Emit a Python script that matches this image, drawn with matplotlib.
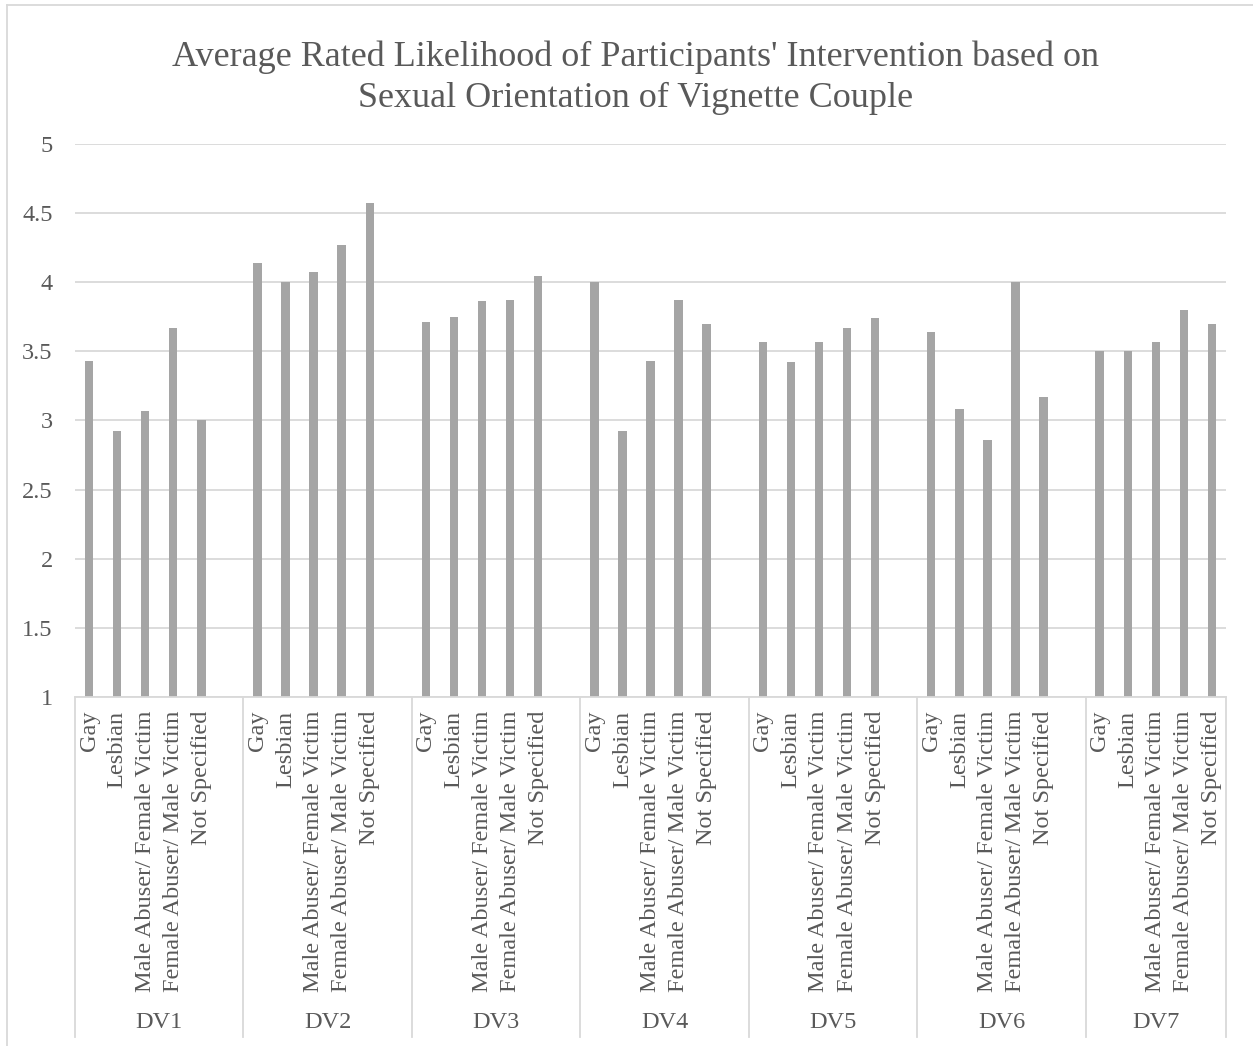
"""
Average rated likelihood of intervention by vignette couple orientation
"""
import matplotlib.pyplot as plt
from matplotlib.lines import Line2D
import matplotlib.transforms as mtransforms

plt.rcParams['font.family'] = ['Liberation Serif', 'DejaVu Serif']

# Data
groups = ['DV1', 'DV2', 'DV3', 'DV4', 'DV5', 'DV6', 'DV7']
categories = ['Gay', 'Lesbian', 'Male Abuser/ Female Victim',
              'Female Abuser/ Male Victim', 'Not Specified']
dv1 = [3.43, 2.92, 3.07, 3.67, 3.00]
dv2 = [4.14, 4.00, 4.07, 4.27, 4.57]
dv3 = [3.71, 3.75, 3.86, 3.87, 4.04]
dv4 = [4.00, 2.92, 3.43, 3.87, 3.70]
dv5 = [3.57, 3.42, 3.57, 3.67, 3.74]
dv6 = [3.64, 3.08, 2.86, 4.00, 3.17]
dv7 = [3.50, 3.50, 3.57, 3.80, 3.70]
values = [dv1, dv2, dv3, dv4, dv5, dv6, dv7]

text_color = '#595959'
bar_color = '#A5A5A5'
line_color = '#D9D9D9'

W, H = 1253, 1046
fig = plt.figure(figsize=(W / 100, H / 100), dpi=100)

# plot area in pixels: x 75..1226, y 143.7..697
left, right, top, bottom = 75, 1226, 143.7, 697
ax = fig.add_axes([left / W, 1 - bottom / H, (right - left) / W, (bottom - top) / H])

# each group = 5 categories + one blank slot
slot = 6
xs, heights, labels = [], [], []
for g, vals in enumerate(values):
    for c, v in enumerate(vals):
        xs.append(g * slot + c)
        heights.append(v - 1)
        labels.append(categories[c])

ax.bar(xs, heights, bottom=1, width=0.3, color=bar_color, zorder=2)

ax.set_xlim(-0.5, len(groups) * slot - 1.5)
ax.set_ylim(1, 5)
ax.set_yticks([1, 1.5, 2, 2.5, 3, 3.5, 4, 4.5, 5])
ax.set_yticklabels(['1', '1.5', '2', '2.5', '3', '3.5', '4', '4.5', '5'])
ax.yaxis.grid(True, color=line_color, linewidth=1.3, zorder=0)
ax.set_axisbelow(True)

for s in ['top', 'right', 'left']:
    ax.spines[s].set_visible(False)
ax.spines['bottom'].set_color(line_color)
ax.spines['bottom'].set_linewidth(1.3)

ax.tick_params(axis='y', length=0, pad=16, labelsize=17.5, labelcolor=text_color)
ax.set_xticks(xs)
ax.set_xticklabels(labels, rotation=90, va='top', ha='center')
ax.tick_params(axis='x', length=0, pad=10, labelsize=17.5, labelcolor=text_color)

# group separators and group labels below the axis
ax_h = bottom - top
y_low = (H - 1037 - (H - bottom)) / ax_h
y_lbl = (H - 1022 - (H - bottom)) / ax_h
trans = mtransforms.blended_transform_factory(ax.transData, ax.transAxes)
seps = [-0.5 + g * slot for g in range(len(groups))] + [len(groups) * slot - 1.5]
for xsep in seps:
    ax.plot([xsep, xsep], [0, y_low], transform=trans, color=line_color,
            linewidth=1.3, clip_on=False)
for g, name in enumerate(groups):
    x0 = -0.5 + g * slot
    x1 = min(x0 + slot, len(groups) * slot - 1.5)
    ax.text((x0 + x1) / 2, y_lbl, name, transform=trans, ha='center',
            va='center', fontsize=17.5, color=text_color)

# title
fig.text(636 / W, 1 - 78 / H,
         "Average Rated Likelihood of Participants' Intervention based on\n"
         "Sexual Orientation of Vignette Couple",
         ha='center', va='center', fontsize=26, color=text_color, linespacing=1.3)

# chart frame (top and left edges visible)
fig.add_artist(Line2D([7 / W, 1], [1 - 4.5 / H, 1 - 4.5 / H], color=line_color, linewidth=1.3))
fig.add_artist(Line2D([7 / W, 7 / W], [0, 1 - 4.5 / H], color=line_color, linewidth=1.3))

plt.savefig('out.png', dpi=100)
plt.close()
